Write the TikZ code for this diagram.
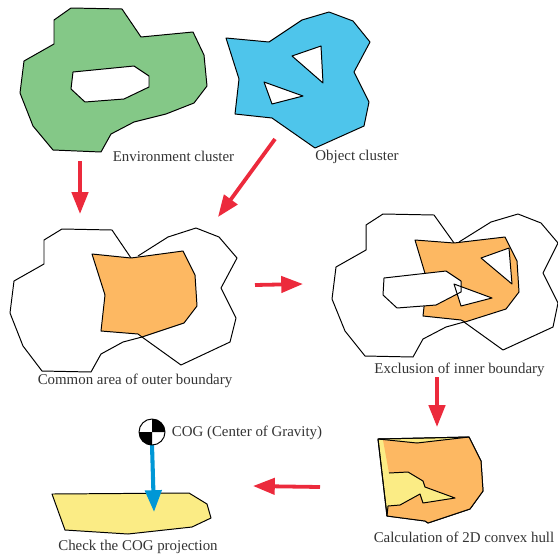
\documentclass[tikz,border=0pt]{standalone}
\usepackage{fontspec}
\setmainfont{Liberation Serif}
\usetikzlibrary{arrows.meta}
\definecolor{envgreen}{HTML}{84C887}
\definecolor{objblue}{HTML}{4EC5EB}
\definecolor{areaorange}{HTML}{FDB862}
\definecolor{hullyellow}{HTML}{FBEC85}
\definecolor{arrowred}{HTML}{EC2A3C}
\definecolor{cogblue}{HTML}{0097D6}
\begin{document}
\begin{tikzpicture}[x=0.25mm,y=-0.25mm,line width=0.7pt,line join=round,
  every node/.style={font=\fontsize{10.6}{12}\selectfont,text=black!80,inner sep=1pt},
  redarrow/.style={arrowred,line width=2.7pt,-{Stealth[length=15.5pt,width=11.5pt,inset=0pt]}},
  bluearrow/.style={cogblue,line width=2.9pt,-{Stealth[length=15.5pt,width=11.5pt,inset=0pt]}}]
\path[use as bounding box] (0,0) rectangle (558,554);
% clusters
\draw[fill=envgreen,even odd rule] (71,8) -- (122,9) -- (141,37) -- (193,32) -- (204,55) -- (207,86) -- (194,103) -- (166,114) -- (134,122) -- (111,134) -- (101,152) -- (53,150) -- (33,126) -- (20,93) -- (24,61) -- (54,44) -- (54,20) -- cycle
  (73,72) -- (134,66) -- (149,76) -- (149,87) -- (124,99) -- (85,102) -- (71,89) -- cycle;
\draw[fill=objblue,even odd rule] (226,38) -- (269,42) -- (302,20) -- (329,12) -- (353,21) -- (370,42) -- (354,72) -- (369,102) -- (364,126) -- (315,148) -- (272,118) -- (235,114) -- (239,79) -- cycle
  (292,56) -- (321,46) -- (323,83) -- cycle
  (264,82) -- (303,96) -- (272,104) -- cycle;
\node (envlabel) at (173.5,156.5) {Environment cluster};
\node (objlabel) at (357,157) {Object cluster};
% common area
\draw (131,258) -- (112,230) -- (62,229) -- (44,240) -- (44,264) -- (14,281) -- (10,313) -- (23,346) -- (42,371) -- (91,372) -- (101,354) -- (123,342) -- (142,337);
\draw (138,256) -- (168,237) -- (196,228) -- (219,237) -- (237,258) -- (221,288) -- (236,318) -- (230,342) -- (181,365) -- (142,337);
\draw[fill=areaorange] (92,254) -- (131,258) -- (183,251) -- (195,275) -- (197,306) -- (184,323) -- (142,337) -- (138,334) -- (101,331) -- (105,295) -- cycle;
\node (commonlabel) at (135,381) {Common area of outer boundary};
% inner boundary
\draw (454,243) -- (434,215) -- (383,214) -- (366,225) -- (366,250) -- (336,267) -- (332,299) -- (345,331) -- (365,356) -- (413,357) -- (423,339) -- (446,327) -- (464,322);
\draw (459,242) -- (491,222) -- (518,214) -- (541,223) -- (558,243) -- (543,273) -- (558,303) -- (553,327) -- (503,350) -- (464,322);
\draw[fill=areaorange] (415,240) -- (454,243) -- (505,237) -- (517,261) -- (519,292) -- (506,309) -- (465,322) -- (461,320) -- (423,316) -- (427,280) -- cycle;
\fill[white] (384,278) -- (446,271) -- (461,281) -- (461,292) -- (436,305) -- (397,308) -- (383,295) -- cycle;
\fill[white] (481,258) -- (509,248) -- (512,284) -- cycle;
\fill[white] (454,284) -- (492,298) -- (461,306) -- cycle;
\draw (384,278) -- (446,271) -- (461,281) -- (461,292) -- (436,305) -- (397,308) -- (383,295) -- cycle;
\draw (481,258) -- (509,248) -- (512,284) -- cycle;
\draw (454,284) -- (492,298) -- (461,306) -- cycle;
\node (exclabel) at (459.5,370) {Exclusion of inner boundary};
% convex hull
\draw[fill=hullyellow] (378,439) -- (469,437) -- (481,461) -- (483,491) -- (470,509) -- (428,523) -- (425,521) -- (387,516) -- cycle;
\fill[areaorange] (383,440) -- (417,443) -- (469,437) -- (481,461) -- (483,491) -- (470,509) -- (428,523) -- (425,521) -- (387,516) -- (388,506) -- (400,505) -- (420,494) -- (423,503) -- (455,498) -- (425,487) -- (423,481) -- (408,472) -- (389,473) -- cycle;
\draw (389,473) -- (408,472) -- (423,481) -- (425,487) -- (455,498) -- (423,503) -- (420,494) -- (400,505) -- (388,506) -- (387,516);
\draw (378,439) -- (417,443) -- (469,437);
\draw (378,439) -- (469,437) -- (481,461) -- (483,491) -- (470,509) -- (428,523) -- (425,521) -- (387,516) -- cycle;
\node (hulllabel) at (464,537) {Calculation of 2D convex hull};
% projection
\draw[fill=hullyellow] (52,494) -- (189,493) -- (207,504) -- (211,518) -- (192,527) -- (128,534) -- (65,530) -- cycle;
\node (checklabel) at (138,547) {Check the COG projection};
% COG mark
\coordinate (cog) at (152,432);
\coordinate (cogtip) at (154,512);
\draw[bluearrow] (152,445) -- (cogtip);
\draw[fill=white] (cog) circle (13);
\fill (cog) -- (152,419) arc (-90:0:13) -- cycle;
\fill (cog) -- (152,445) arc (90:180:13) -- cycle;
\node[anchor=west] (coglabel) at (170,433) {COG (Center of Gravity)};
% arrows
\coordinate (a1) at (80,161);
\coordinate (b1) at (80,214);
\coordinate (a2) at (275,139);
\coordinate (b2) at (218,217);
\coordinate (a3) at (255,285);
\coordinate (b3) at (303,284);
\coordinate (a4) at (437,377);
\coordinate (b4) at (437,427);
\coordinate (a5) at (320,487);
\coordinate (b5) at (253,486);
\foreach \i in {1,...,5}
  \draw[redarrow] (a\i) -- (b\i);
\end{tikzpicture}
\end{document}
